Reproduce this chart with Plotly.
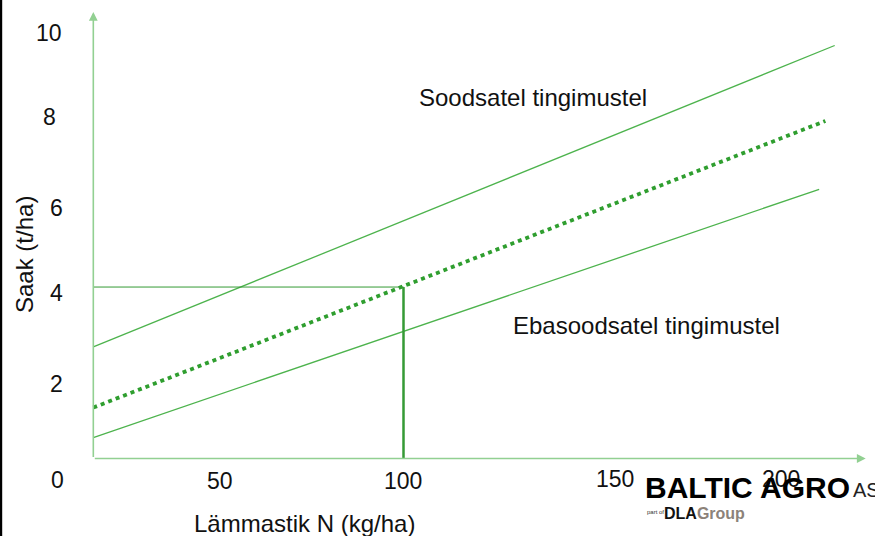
import plotly.graph_objects as go

# ---------------- data ----------------
favourable_N = [0, 239]          # Lämmastik N (kg/ha)
favourable_yield = [2.50, 9.25]  # Saak (t/ha)
average_N = [0, 236]
average_yield = [1.14, 7.56]
unfavourable_N = [0, 234]
unfavourable_yield = [0.47, 6.03]
ref_N = 100
ref_yield = 3.84

y_tick_labels = ["0", "2", "4", "6", "8", "10"]
x_tick_labels = ["50", "100", "150", "200"]

favourable_label = "Soodsatel tingimustel"
unfavourable_label = "Ebasoodsatel tingimustel"
x_title = "Lämmastik N (kg/ha)"
y_title = "Saak (t/ha)"

# ---------------- layout helpers ----------------
W, H = 875, 536
FONT = "Liberation Sans, Arial, sans-serif"
X_RANGE = [-30.08, 252.0]
Y_RANGE = [-1.736, 10.269]


def P(px, py):
    """window pixel -> paper coordinates (plot area fills the window)"""
    return px / W, 1 - py / H


AXIS_COL = "#92d092"
LINE_COL = "#4db34d"
DOT_COL = "#2f9e2f"
REF_COL = "#359a35"

fig = go.Figure()

fig.add_trace(go.Scatter(x=favourable_N, y=favourable_yield, mode="lines",
                         line=dict(color=LINE_COL, width=1.3), showlegend=False))
fig.add_trace(go.Scatter(x=unfavourable_N, y=unfavourable_yield, mode="lines",
                         line=dict(color=LINE_COL, width=1.3), showlegend=False))
fig.add_trace(go.Scatter(x=average_N, y=average_yield, mode="lines",
                         line=dict(color=DOT_COL, width=3.8, dash="4px,4px"),
                         showlegend=False))
fig.add_trace(go.Scatter(x=[0, ref_N], y=[ref_yield, ref_yield], mode="lines",
                         line=dict(color=REF_COL, width=1), showlegend=False))
fig.add_trace(go.Scatter(x=[ref_N, ref_N], y=[ref_yield, 0], mode="lines",
                         line=dict(color=REF_COL, width=2.5), showlegend=False))

ann = []
# axes with arrow heads
ann.append(dict(x=0, y=10, ax=0, ay=0, xref="x", yref="y", axref="x", ayref="y",
                text="", showarrow=True, arrowhead=2, arrowsize=1.1,
                arrowwidth=1.6, arrowcolor=AXIS_COL))
ann.append(dict(x=249, y=0, ax=0, ay=0, xref="x", yref="y", axref="x", ayref="y",
                text="", showarrow=True, arrowhead=2, arrowsize=1.1,
                arrowwidth=1.6, arrowcolor=AXIS_COL))

# tick labels (hand placed as in the slide)
y_label_pos = [(57, 479), (56.5, 383.5), (56.5, 292.5), (56.5, 207.5), (49, 116.5), (49, 32.5)]
for t, (px, py) in zip(y_tick_labels, y_label_pos):
    x, y = P(px, py + 0.5)
    ann.append(dict(x=x, y=y, xref="paper", yref="paper", text=t, showarrow=False,
                    xanchor="center", yanchor="middle",
                    font=dict(family=FONT, size=23, color="#111")))
x_label_pos = [(220, 480), (403, 480), (615, 478), (781, 478)]
for t, (px, py) in zip(x_tick_labels, x_label_pos):
    x, y = P(px, py + 0.5)
    ann.append(dict(x=x, y=y, xref="paper", yref="paper", text=t, showarrow=False,
                    xanchor="center", yanchor="middle",
                    font=dict(family=FONT, size=23, color="#111")))

# axis titles
x, y = P(304, 523)
ann.append(dict(x=x, y=y, xref="paper", yref="paper", text=x_title, showarrow=False,
                xanchor="center", yanchor="middle",
                font=dict(family=FONT, size=24, color="#111")))
x, y = P(24, 255)
ann.append(dict(x=x, y=y, xref="paper", yref="paper", text=y_title, showarrow=False,
                xanchor="center", yanchor="middle", textangle=-90,
                font=dict(family=FONT, size=24, color="#111")))

# curve labels
x, y = P(417, 97)
ann.append(dict(x=x, y=y, xref="paper", yref="paper", text=favourable_label,
                showarrow=False, xanchor="left", yanchor="middle",
                font=dict(family=FONT, size=24, color="#111")))
x, y = P(511, 325)
ann.append(dict(x=x, y=y, xref="paper", yref="paper", text=unfavourable_label,
                showarrow=False, xanchor="left", yanchor="middle",
                font=dict(family=FONT, size=24, color="#111")))

# logo
x, y = P(643, 487)
ann.append(dict(x=x, y=y, xref="paper", yref="paper", text="<b>BALTIC AGRO</b>",
                showarrow=False, xanchor="left", yanchor="middle",
                font=dict(family=FONT, size=30, color="#000")))
x, y = P(851, 490)
ann.append(dict(x=x, y=y, xref="paper", yref="paper", text="AS",
                showarrow=False, xanchor="left", yanchor="middle",
                font=dict(family=FONT, size=20, color="#222")))
x, y = P(645, 512)
ann.append(dict(x=x, y=y, xref="paper", yref="paper", text="part of",
                showarrow=False, xanchor="left", yanchor="middle",
                font=dict(family=FONT, size=6, color="#333")))
x, y = P(662, 513)
ann.append(dict(x=x, y=y, xref="paper", yref="paper",
                text="<b>DLA</b><b><span style='color:#8c8279'>Group</span></b>",
                showarrow=False, xanchor="left", yanchor="middle",
                font=dict(family=FONT, size=16, color="#111")))

# black slide border at the far left edge (2 px wide)
px_per_unit = W / (X_RANGE[1] - X_RANGE[0])
shapes = [
    dict(type="rect", xref="x", yref="y",
         x0=X_RANGE[0], x1=X_RANGE[0] + 2.2 / px_per_unit,
         y0=Y_RANGE[0], y1=Y_RANGE[1],
         fillcolor="#000000", line=dict(width=0), layer="above"),
]

fig.update_layout(
    width=W, height=H,
    margin=dict(l=0, r=0, t=0, b=0, pad=0),
    paper_bgcolor="white", plot_bgcolor="white",
    xaxis=dict(range=X_RANGE, visible=False, fixedrange=True),
    yaxis=dict(range=Y_RANGE, visible=False, fixedrange=True),
    annotations=ann, shapes=shapes, showlegend=False,
)

fig.write_html(
    "out.html",
    config={"displayModeBar": False},
    post_script="document.body.style.margin='0';document.body.style.overflow='hidden';",
)
